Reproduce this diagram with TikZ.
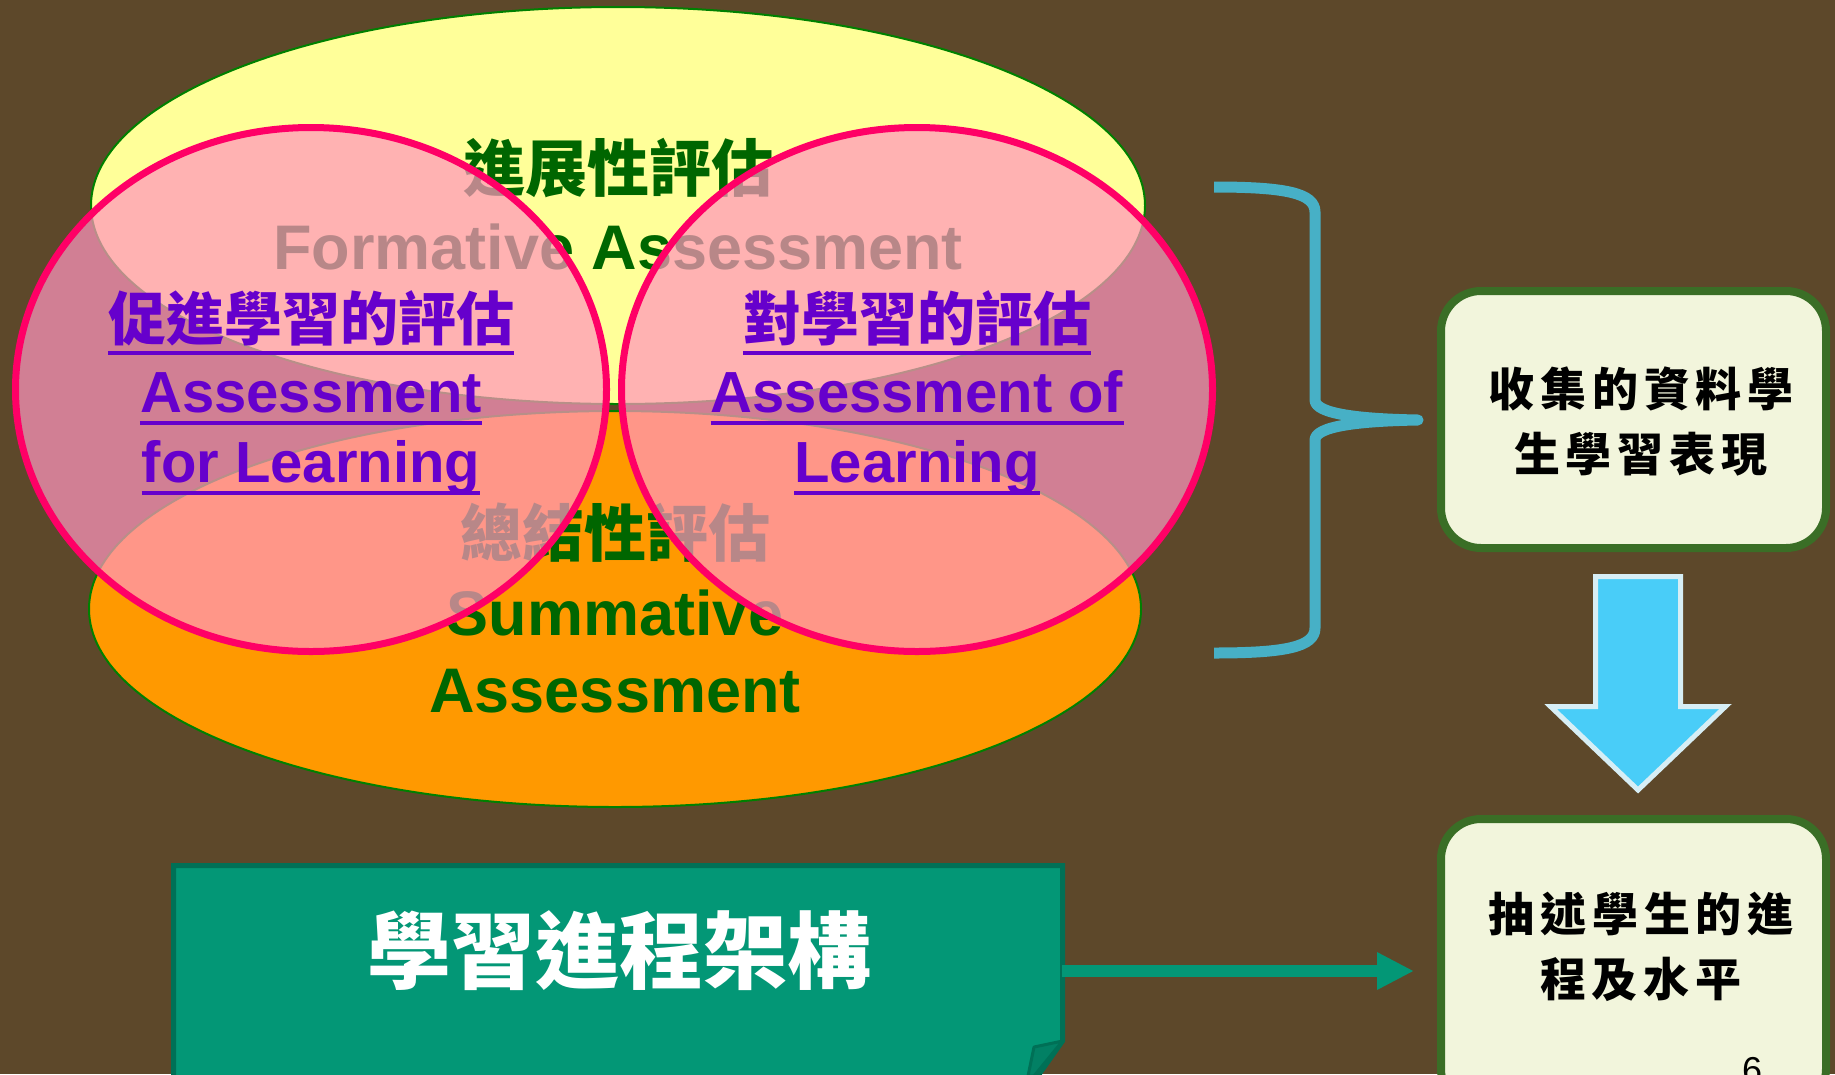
\documentclass[tikz,border=0pt]{standalone}
\usepackage{fontspec}
\setmainfont{Liberation Sans}
\newfontfamily\cjk{Noto Sans CJK TC}
\newfontfamily\cjksp{Noto Sans CJK TC}[LetterSpace=13]
\usetikzlibrary{shapes.geometric,arrows.meta,calc}
\definecolor{bgbrown}{RGB}{93,72,42}
\definecolor{yell}{RGB}{255,255,153}
\definecolor{orng}{RGB}{255,153,0}
\definecolor{dgreen}{RGB}{0,102,0}
\definecolor{ellline}{RGB}{0,128,0}
\definecolor{pinkfill}{RGB}{255,149,189}
\definecolor{pinkline}{RGB}{255,0,102}
\definecolor{purp}{RGB}{102,0,204}
\definecolor{bracecol}{RGB}{71,176,198}
\definecolor{boxfill}{RGB}{242,245,220}
\definecolor{boxline}{RGB}{58,110,38}
\definecolor{arrowfill}{RGB}{73,205,248}
\definecolor{arrowline}{RGB}{215,238,245}
\definecolor{tealbox}{RGB}{3,151,118}
\definecolor{tealline}{RGB}{0,112,86}
\definecolor{tealfold}{RGB}{2,128,100}
\begin{document}
\begin{tikzpicture}[x=1pt,y=-1pt,
  bigell/.style={ellipse, draw=ellline, line width=2pt, inner sep=0pt},
  pinkell/.style={ellipse, draw=pinkline, line width=7pt, fill=pinkfill, fill opacity=0.72, draw opacity=1, inner sep=0pt},
  gtxt/.style={text=dgreen, inner sep=0pt, anchor=base, font=\bfseries\fontsize{63}{75}\selectfont},
  gtxtc/.style={text=dgreen, inner sep=0pt, anchor=base, font=\cjk\bfseries\fontsize{62}{75}\selectfont},
  ptxt/.style={text=purp, inner sep=0pt, anchor=base, font=\bfseries\fontsize{58}{70}\selectfont},
  ptxtc/.style={text=purp, inner sep=0pt, anchor=base, font=\cjk\bfseries\fontsize{58}{70}\selectfont},
  uline/.style={draw=purp, line width=4pt},
  rbox/.style={draw=boxline, line width=8pt, fill=boxfill, rounded corners=40pt, inner sep=0pt},
  btxt/.style={inner sep=0pt, align=center, text=black, font=\cjksp\bfseries\fontsize{46}{65}\selectfont},
  bracestyle/.style={draw=bracecol, line width=11pt, line join=round},
  dnarrow/.style={fill=arrowfill, draw=arrowline, line width=5pt, line join=miter},
  tealshape/.style={fill=tealbox, draw=tealline, line width=5pt},
  foldstyle/.style={fill=tealfold, draw=tealline, line width=3pt, line join=round},
  garrow/.style={draw=tealbox, line width=12pt, -{Triangle[length=37pt,width=35pt]}}
]
\fill[bgbrown] (0,0) rectangle (1835,1074);
\useasboundingbox (0,0) rectangle (1835,1074);

% big ellipses
\node[bigell, fill=yell, minimum width=1054pt, minimum height=397pt] (yel) at (618,205.5) {};
\node[bigell, fill=orng, minimum width=1052pt, minimum height=396pt] (org) at (615,609) {};

% green texts
\node[gtxtc] (f1) at (618,191) {進展性評估};
\node[gtxt] (f2) at (618,269) {Formative Assessment};
\node[gtxtc] (s1) at (615,556) {總結性評估};
\node[gtxt] (s2) at (615,635) {Summative};
\node[gtxt] (s3) at (615,712) {Assessment};

% pink ellipses
\node[pinkell, minimum width=591pt, minimum height=524pt] (pl) at (311,389.5) {};
\node[pinkell, minimum width=591pt, minimum height=524pt] (pr) at (917,389.5) {};

% purple texts
\node[ptxtc] (pl1) at (311,340) {促進學習的評估};
\node[ptxt] (pl2) at (311,412) {Assessment};
\node[ptxt] (pl3) at (311,482) {for Learning};
\node[ptxtc] (pr1) at (917,340) {對學習的評估};
\node[ptxt] (pr2) at (917,412) {Assessment of};
\node[ptxt] (pr3) at (917,482) {Learning};
\foreach \n/\s in {pl1/-13pt,pl2/-11pt,pl3/-11pt,pr1/-13pt,pr2/-11pt,pr3/-11pt}{
  \draw[uline] ([yshift=\s]\n.base west) -- ([yshift=\s]\n.base east);
}

% brace
\draw[bracestyle] (1214,187) .. controls (1285,187) and (1315,193) .. (1315,212)
  -- (1315,400) .. controls (1315,414) and (1360,419) .. (1418,420)
  .. controls (1360,421) and (1315,426) .. (1315,440)
  -- (1315,628) .. controls (1315,647) and (1285,653) .. (1214,653);

% right boxes
\node[rbox, minimum width=385pt, minimum height=257pt] (b1) at (1633.5,419.5) {};
\node[btxt] (b1t) at (1641,421) {收集的資料學\\生學習表現};
\node[rbox, minimum width=385pt, minimum height=290pt] (b2) at (1633.5,964) {};
\node[btxt] (b2t) at (1641,947) {抽述學生的進\\程及水平};
\node[inner sep=0pt, anchor=base, text=black, font=\fontsize{36}{40}\selectfont] (pg) at (1752,1082) {6};

% down block arrow
\draw[dnarrow] (1595.5,576.5) -- (1680.5,576.5) -- (1680.5,706.5) -- (1725.5,706.5)
  -- (1638,790) -- (1550.5,706.5) -- (1595.5,706.5) -- cycle;

% teal box with folded corner
\draw[tealshape] (173.5,865.5) -- (1062.5,865.5) -- (1062.5,1041) -- (1035,1080) -- (173.5,1080) -- cycle;
\draw[foldstyle] (1062.5,1041) -- (1034,1047) -- (1028,1076) -- (1034,1076) -- cycle;
\node[inner sep=0pt, anchor=base, text=white, font=\cjk\bfseries\fontsize{84}{90}\selectfont] (gbt) at (619,982) {學習進程架構};
\coordinate (gaS) at (1062,971);
\draw[garrow, shorten >=23pt] (gaS) -- (b2.west |- gaS);
\end{tikzpicture}
\end{document}
